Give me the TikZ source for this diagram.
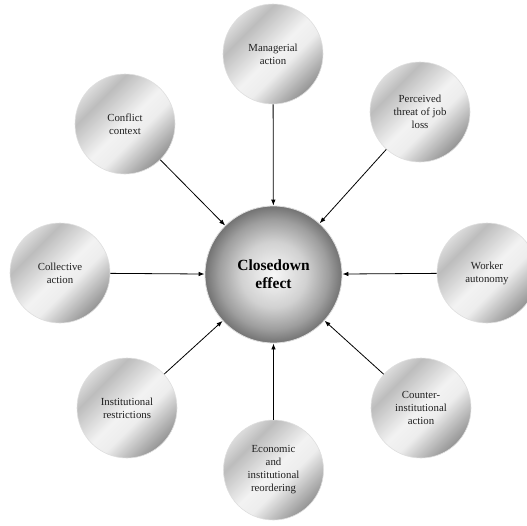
\documentclass[tikz,border=0pt]{standalone}
\usepackage{fontspec}
\setmainfont{Liberation Serif}
\usetikzlibrary{arrows.meta}
\definecolor{mA}{gray}{0.86}
\definecolor{mB}{gray}{0.74}
\definecolor{mC}{gray}{0.95}
\definecolor{mD}{gray}{0.93}
\definecolor{mE}{gray}{0.58}
\definecolor{cA}{gray}{0.97}
\definecolor{cB}{gray}{0.82}
\definecolor{cC}{gray}{0.62}
\definecolor{cD}{gray}{0.45}
\definecolor{rim}{gray}{0.87}
\definecolor{txt}{gray}{0.12}
\pgfdeclarehorizontalshading{metal}{100bp}{color(0bp)=(mA); color(25bp)=(mA); color(33bp)=(mB); color(50bp)=(mC); color(58bp)=(mD); color(75bp)=(mE); color(100bp)=(mE)}
\pgfdeclareradialshading{ctrball}{\pgfpoint{0bp}{0bp}}{color(0bp)=(cA); color(12bp)=(cB); color(20bp)=(cC); color(25bp)=(cD); color(50bp)=(cD)}
\tikzset{
  outer/.style={circle, minimum size=100pt, inner sep=0pt, shading=metal, shading angle=-45, draw=rim, line width=0.6pt, align=center, text=txt, font=\fontsize{10.8}{13}\selectfont},
  centre/.style={circle, minimum size=137pt, inner sep=0pt, shading=ctrball, draw=rim, line width=0.8pt, align=center, text=black, font=\fontsize{15.5}{18}\selectfont\bfseries},
  conn/.style={-{Latex[length=6pt,width=4.5pt]}, line width=0.8pt, black}
}
\begin{document}
\begin{tikzpicture}[x=1pt,y=-1pt]
\useasboundingbox (0,0) rectangle (527,525);
\clip (0,0) rectangle (527,525);
\node[centre] (c) at (273.5,274.5) {Closedown\\effect};
\node[outer] (man) at (273,54) {Managerial\\action};
\node[outer] (per) at (420,112) {Perceived\\threat of job\\loss};
\node[outer] (wor) at (487,273) {Worker\\autonomy};
\node[outer] (cou) at (421,408) {Counter-\\institutional\\action};
\node[outer] (eco) at (273.5,470) {Economic\\and\\institutional\\reordering};
\node[outer] (ins) at (127,408) {Institutional\\restrictions};
\node[outer] (col) at (60,273) {Collective\\action};
\node[outer] (con) at (125,124) {Conflict\\context};
\foreach \n in {man,per,wor,cou,eco,ins,col,con}
  \draw[conn] (\n) -- (c);
\end{tikzpicture}
\end{document}
